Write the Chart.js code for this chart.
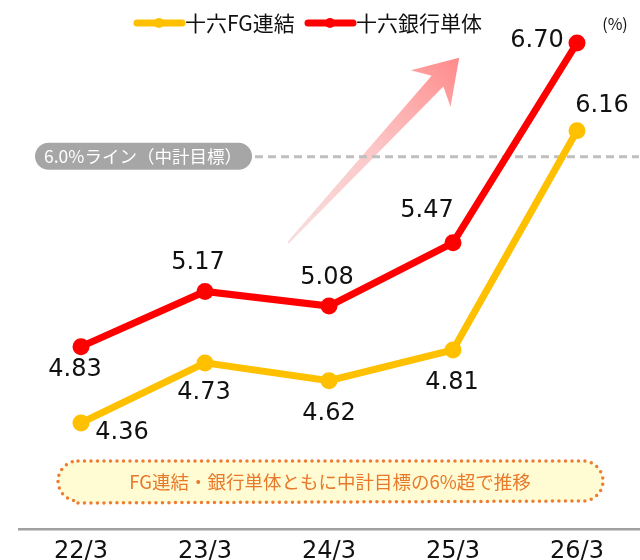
<!DOCTYPE html>
<html lang="ja">
<head>
<meta charset="utf-8">
<title>自己資本比率の推移</title>
<script src="https://cdn.jsdelivr.net/npm/chart.js@4/dist/chart.umd.min.js"></script>
<style>
    html, body { margin: 0; padding: 0; background: #fff; }
    #wrap { width: 640px; height: 560px; }
</style>
</head>
<body>
<div id="wrap"><canvas id="chart" width="640" height="560"></canvas></div>
<script>
// データ
const categories = ['22/3', '23/3', '24/3', '25/3', '26/3'];
const seriesNames = ['十六FG連結', '十六銀行単体'];
const fgValues = [4.36, 4.73, 4.62, 4.81, 6.16];
const bankValues = [4.83, 5.17, 5.08, 5.47, 6.70];
const targetValue = 6.0;
const targetLabel = '6.0%ライン（中計目標）';
const noteText = 'FG連結・銀行単体ともに中計目標の6%超で推移';
const unitText = '(%)';

// ラベル位置（点からのずらし量）
const fgLabelOffsets = [[41, 10], [-1, 30], [0, 33], [-1, 33], [25, -25]];
const bankLabelOffsets = [[-6, 23], [-7, -29], [-2, -28], [-26, -32], [-40, -2]];

const GOLD = '#FFC000';
const RED = '#FF0000';
const JP_FONT = '"Noto Sans CJK JP", "Noto Sans", sans-serif';
const NUM_FONT = '"DejaVu Sans", sans-serif';

function roundRect(ctx, x, y, w, h, r) {
    ctx.beginPath();
    ctx.moveTo(x + r, y);
    ctx.lineTo(x + w - r, y);
    ctx.arc(x + w - r, y + r, r, -Math.PI / 2, Math.PI / 2);
    ctx.lineTo(x + r, y + h);
    ctx.arc(x + r, y + r, r, Math.PI / 2, Math.PI * 1.5);
    ctx.closePath();
}

// 背景の装飾（矢印・目標ライン・注記）
const decorPlugin = {
    id: 'decor',
    beforeDatasetsDraw(chart) {
        const ctx = chart.ctx;
        const x = chart.scales.x;
        const y = chart.scales.y;
        const area = chart.chartArea;

        // 上昇矢印
        const tx = x.getPixelForValue(1.67), ty = y.getPixelForValue(5.47);
        const px = x.getPixelForValue(3.05), py = y.getPixelForValue(6.61);
        const len = Math.hypot(px - tx, py - ty);
        const ux = (px - tx) / len, uy = (py - ty) / len;
        const nx = -uy, ny = ux;
        const pt = (a, b) => [px + ux * a + nx * b, py + uy * a + ny * b];
        const shape = [
            pt(0, 0), pt(-42, 27), pt(-32, 8), pt(-len, 1),
            pt(-len, -1), pt(-32, -8), pt(-42, -27)
        ];
        const grad = ctx.createLinearGradient(tx, ty, px, py);
        grad.addColorStop(0, 'rgba(246, 218, 218, 0.9)');
        grad.addColorStop(0.5, 'rgba(252, 196, 196, 0.95)');
        grad.addColorStop(1, 'rgba(255, 138, 138, 1)');
        ctx.save();
        ctx.fillStyle = grad;
        ctx.beginPath();
        shape.forEach((p, i) => i ? ctx.lineTo(p[0], p[1]) : ctx.moveTo(p[0], p[1]));
        ctx.closePath();
        ctx.fill();

        // 6.0%ライン
        const ly = y.getPixelForValue(targetValue);
        ctx.strokeStyle = '#BFBFBF';
        ctx.lineWidth = 3;
        ctx.setLineDash([8, 5]);
        ctx.beginPath();
        ctx.moveTo(255, ly);
        ctx.lineTo(area.right, ly);
        ctx.stroke();
        ctx.setLineDash([]);

        ctx.fillStyle = '#A6A6A6';
        roundRect(ctx, 35, ly - 14, 217, 27, 13.5);
        ctx.fill();
        ctx.fillStyle = '#fff';
        ctx.font = '17.5px ' + JP_FONT;
        ctx.textAlign = 'center';
        ctx.textBaseline = 'middle';
        ctx.fillText(targetLabel, 143, ly);

        // 注記ボックス
        ctx.fillStyle = '#FFFBD3';
        roundRect(ctx, 58, 461, 545, 42, 20);
        ctx.fill();
        ctx.strokeStyle = '#ED7D31';
        ctx.lineWidth = 3.5;
        ctx.lineCap = 'round';
        ctx.setLineDash([0, 6.5]);
        ctx.stroke();
        ctx.setLineDash([]);
        ctx.fillStyle = '#E8792A';
        ctx.font = '18.5px ' + JP_FONT;
        ctx.fillText(noteText, 330, 482);
        ctx.restore();
    },
    afterDraw(chart) {
        const ctx = chart.ctx;
        ctx.save();

        // 数値ラベル
        ctx.font = '24px ' + NUM_FONT;
        ctx.fillStyle = '#111';
        ctx.textAlign = 'center';
        ctx.textBaseline = 'middle';
        const offsets = [fgLabelOffsets, bankLabelOffsets];
        chart.data.datasets.forEach((ds, di) => {
            chart.getDatasetMeta(di).data.forEach((el, i) => {
                const o = offsets[di][i];
                ctx.fillText(ds.data[i].toFixed(2), el.x + o[0], el.y + o[1]);
            });
        });

        // 凡例
        const items = [
            { name: seriesNames[0], color: GOLD, x: 137 },
            { name: seriesNames[1], color: RED, x: 308 }
        ];
        items.forEach(it => {
            ctx.strokeStyle = it.color;
            ctx.lineWidth = 7;
            ctx.lineCap = 'round';
            ctx.beginPath();
            ctx.moveTo(it.x, 23);
            ctx.lineTo(it.x + 45, 23);
            ctx.stroke();
            ctx.fillStyle = it.color;
            ctx.beginPath();
            ctx.arc(it.x + 22, 23, 5, 0, Math.PI * 2);
            ctx.fill();
            ctx.fillStyle = '#111';
            ctx.font = '21px ' + JP_FONT;
            ctx.textAlign = 'left';
            ctx.fillText(it.name, it.x + 48, 23);
        });

        // 単位
        ctx.font = '16px ' + JP_FONT;
        ctx.textAlign = 'center';
        ctx.fillText(unitText, 615, 24);
        ctx.restore();
    }
};

new Chart(document.getElementById('chart'), {
    type: 'line',
    data: {
        labels: categories,
        datasets: [
            {
                label: seriesNames[0],
                data: fgValues,
                borderColor: GOLD,
                backgroundColor: GOLD,
                borderWidth: 7,
                pointRadius: 8.5,
                pointBorderWidth: 0,
                pointBackgroundColor: GOLD,
                tension: 0,
                clip: false
            },
            {
                label: seriesNames[1],
                data: bankValues,
                borderColor: RED,
                backgroundColor: RED,
                borderWidth: 7,
                pointRadius: 8.5,
                pointBorderWidth: 0,
                pointBackgroundColor: RED,
                tension: 0,
                clip: false
            }
        ]
    },
    options: {
        responsive: false,
        animation: false,
        devicePixelRatio: 1,
        layout: { autoPadding: false, padding: { left: 19, right: 1, top: 0, bottom: 0 } },
        plugins: {
            legend: { display: false },
            tooltip: { enabled: false }
        },
        scales: {
            x: {
                offset: true,
                grid: { display: false, drawTicks: false },
                border: { display: true, color: '#A0A0A0', width: 2.5 },
                ticks: {
                    color: '#111',
                    font: { family: NUM_FONT, size: 24 },
                    padding: 8,
                    maxRotation: 0
                },
                afterFit(scale) {
                    scale.height = 31;
                    scale.paddingLeft = 0;
                    scale.paddingRight = 0;
                }
            },
            y: {
                display: false,
                min: 3.707,
                max: 6.965
            }
        }
    },
    plugins: [decorPlugin]
});
</script>
</body>
</html>
